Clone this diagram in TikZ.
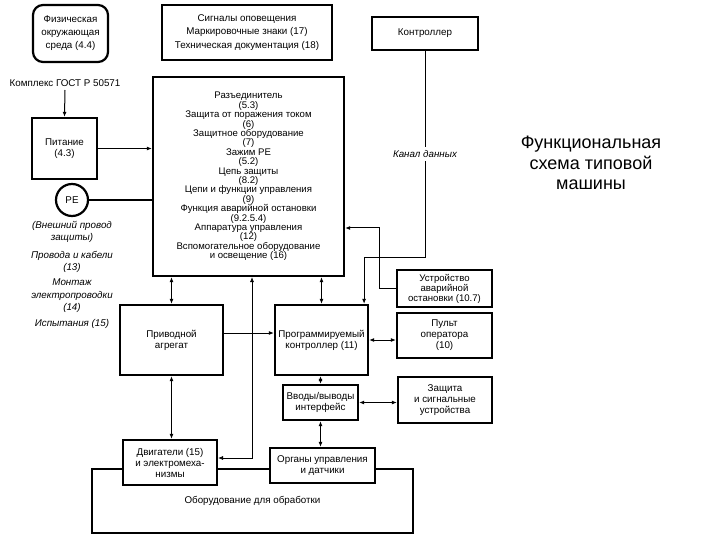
\documentclass[tikz,border=0pt]{standalone}
\usepackage{fontspec}
\setmainfont{Liberation Sans}
\usetikzlibrary{arrows.meta}
\tikzset{
  box/.style={draw, line width=2.2pt, fill=white, align=center, inner sep=1pt},
  thinbox/.style={draw, line width=1.3pt, fill=white, align=center, inner sep=1pt},
  link/.style={line width=1pt},
  arr/.style={link, -{Latex[length=5pt, width=4pt]}},
  biarr/.style={link, {Latex[length=5pt, width=4pt]}-{Latex[length=5pt, width=4pt]}},
  note/.style={font=\fontsize{9.8}{12.5}\selectfont\itshape, align=center},
}
\begin{document}
\begin{tikzpicture}[x=1pt, y=-1pt, font=\fontsize{9.8}{11}\selectfont]
\useasboundingbox (0, 0) rectangle (720, 540);
\node [box, draw=none, fill=none, minimum width=319, minimum height=62] (equip) at (252.5, 501) {Оборудование для обработки};
\draw [line width=2.2pt] (equip.south west) rectangle (equip.north east);
\node [box, rounded corners=10pt, minimum width=75, minimum height=57, font=\fontsize{9.8}{13}\selectfont] (env) at (70.5, 33.5) {Физическая\\окружающая\\среда (4.4)};
\node [thinbox, minimum width=170, minimum height=55, font=\fontsize{9.8}{13.5}\selectfont] (signals) at (247, 32.5) {Сигналы оповещения\\Маркировочные знаки (17)\\Техническая документация (18)};
\node [thinbox, minimum width=106, minimum height=33] (ctrl) at (425, 33.5) {Контроллер};
\node () (gost) at (65, 83) {Комплекс ГОСТ Р 50571};
\node [box, minimum width=65, minimum height=61] (power) at (64.5, 148.5) {Питание\\(4.3)};
\node [box, circle, minimum size=32] (pe) at (72, 200) {PE};
\node [box, minimum width=191, minimum height=199, font=\fontsize{9.6}{9.4}\selectfont] (main) at (248.5, 176.5) {Разъединитель\\(5.3)\\Защита от поражения током\\(6)\\Защитное оборудование\\(7)\\Зажим PE\\(5.2)\\Цепь защиты\\(8.2)\\Цепи и функции управления\\(9)\\Функция аварийной остановки\\(9.2.5.4)\\Аппаратура управления\\(12)\\Вспомогательное оборудование\\и освещение (16)};
\node [note] (wire) at (72, 232) {(Внешний провод\\защиты)};
\node [note] (cables) at (72, 262) {Провода и кабели\\(13)};
\node [note] (mount) at (72, 296) {Монтаж\\электропроводки\\(14)};
\node [note] (tests) at (72, 324) {Испытания (15)};
\node [box, minimum width=103, minimum height=70] (privod) at (171.5, 340) {Приводной\\агрегат};
\node [box, minimum width=93, minimum height=70] (plc) at (321.5, 340) {Программируемый\\контроллер (11)};
\node [box, minimum width=95, minimum height=37, font=\fontsize{9.6}{10}\selectfont] (estop) at (444.5, 288.5) {Устройство\\аварийной\\остановки (10.7)};
\node [box, minimum width=95, minimum height=45] (pult) at (444.5, 335.5) {Пульт\\оператора\\(10)};
\node [box, minimum width=75, minimum height=35] (io) at (320.5, 402.5) {Вводы/выводы\\интерфейс};
\node [box, minimum width=94, minimum height=46] (prot) at (445, 400) {Защита\\и сигнальные\\устройства};
\node [box, minimum width=94, minimum height=45] (motors) at (170, 462.5) {Двигатели (15)\\и электромеха-\\низмы};
\node [box, minimum width=105, minimum height=35] (sens) at (322.5, 465.5) {Органы управления\\и датчики};
\node [font=\fontsize{18}{20.5}\selectfont, align=center] (title) at (591, 163) {Функциональная\\схема типовой\\машины};
% connectors
\draw [arr] (gost.south) -- (power.north);
\draw [arr] (power.east) -- (power.east -| main.west);
\draw [line width=2.2pt] (pe.east) -- (pe.east -| main.west);
\draw [arr] (ctrl.south) -- node [note, fill=white] (chan) {Канал данных} (ctrl.south |- 0, 257) -| ([xshift=-5pt]plc.north east);
\draw [arr] (estop.west) -- ++(-16, 0) |- (main.east |- 0, 228);
\draw [biarr] (privod.north) -- (privod.north |- main.south);
\draw [biarr] (plc.north) -- (plc.north |- main.south);
\draw [biarr, line width=0.6pt] ([xshift=3.5pt]main.south) |- ([yshift=4.5pt]motors.east);
\draw [arr] ([yshift=7pt]privod.east) -- ([yshift=7pt]privod.east -| plc.west);
\draw [biarr] (plc.east) -- (plc.east -| pult.west);
\draw [biarr] (io.north) -- (io.north |- plc.south);
\draw [biarr] (io.east) -- (io.east -| prot.west);
\draw [biarr] (io.south) -- (io.south |- sens.north);
\draw [biarr] (privod.south) -- (privod.south |- motors.north);
\end{tikzpicture}
\end{document}
